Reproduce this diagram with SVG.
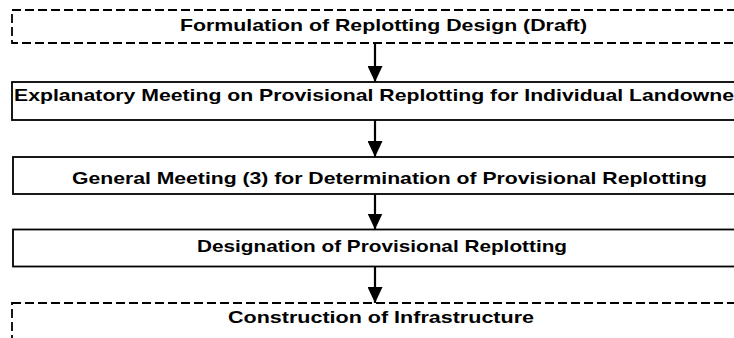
<svg xmlns="http://www.w3.org/2000/svg" width="734" height="338" viewBox="0 0 734 338">
  <style>
    .box { fill: #ffffff; stroke: #000000; stroke-width: 1.8; }
    .dashed { stroke-dasharray: 9 4; }
    .label { font-family: "Liberation Sans", Arial, sans-serif; font-size: 17px; font-weight: bold; fill: #000000; }
    .link { stroke: #000000; stroke-width: 2.2; fill: none; }
  </style>
  <defs>
    <marker id="head" viewBox="0 0 16 15" refX="16" refY="7.5" markerWidth="16" markerHeight="15" markerUnits="userSpaceOnUse" orient="auto">
      <path d="M0,0 L16,7.5 L0,15 Z" fill="#000000"/>
    </marker>
  </defs>
  <rect width="734" height="338" fill="#ffffff"/>

  <!-- process steps -->
  <g id="step-draft">
    <rect class="box dashed" x="12" y="10" width="760" height="33"/>
    <text class="label" x="180" y="30.5" textLength="407" lengthAdjust="spacingAndGlyphs">Formulation of Replotting Design (Draft)</text>
  </g>
  <g id="step-explanatory">
    <rect class="box" x="12" y="82" width="760" height="38"/>
    <text class="label" x="14" y="100.5" textLength="720" lengthAdjust="spacingAndGlyphs">Explanatory Meeting on Provisional Replotting for Individual Landowne</text>
  </g>
  <g id="step-general-meeting">
    <rect class="box" x="13" y="157" width="760" height="37"/>
    <text class="label" x="72" y="184" textLength="635" lengthAdjust="spacingAndGlyphs">General Meeting (3) for Determination of Provisional Replotting</text>
  </g>
  <g id="step-designation">
    <rect class="box" x="13" y="229.5" width="760" height="37"/>
    <text class="label" x="197" y="252" textLength="370" lengthAdjust="spacingAndGlyphs">Designation of Provisional Replotting</text>
  </g>
  <g id="step-construction">
    <rect class="box dashed" x="12" y="303" width="760" height="60"/>
    <text class="label" x="228" y="323" textLength="306" lengthAdjust="spacingAndGlyphs">Construction of Infrastructure</text>
  </g>

  <!-- connectors -->
  <g id="connectors">
    <line class="link" x1="375" y1="43" x2="375" y2="82" marker-end="url(#head)"/>
    <line class="link" x1="375" y1="120" x2="375" y2="157" marker-end="url(#head)"/>
    <line class="link" x1="375" y1="194" x2="375" y2="229.5" marker-end="url(#head)"/>
    <line class="link" x1="375" y1="266.5" x2="375" y2="303" marker-end="url(#head)"/>
  </g>
</svg>
